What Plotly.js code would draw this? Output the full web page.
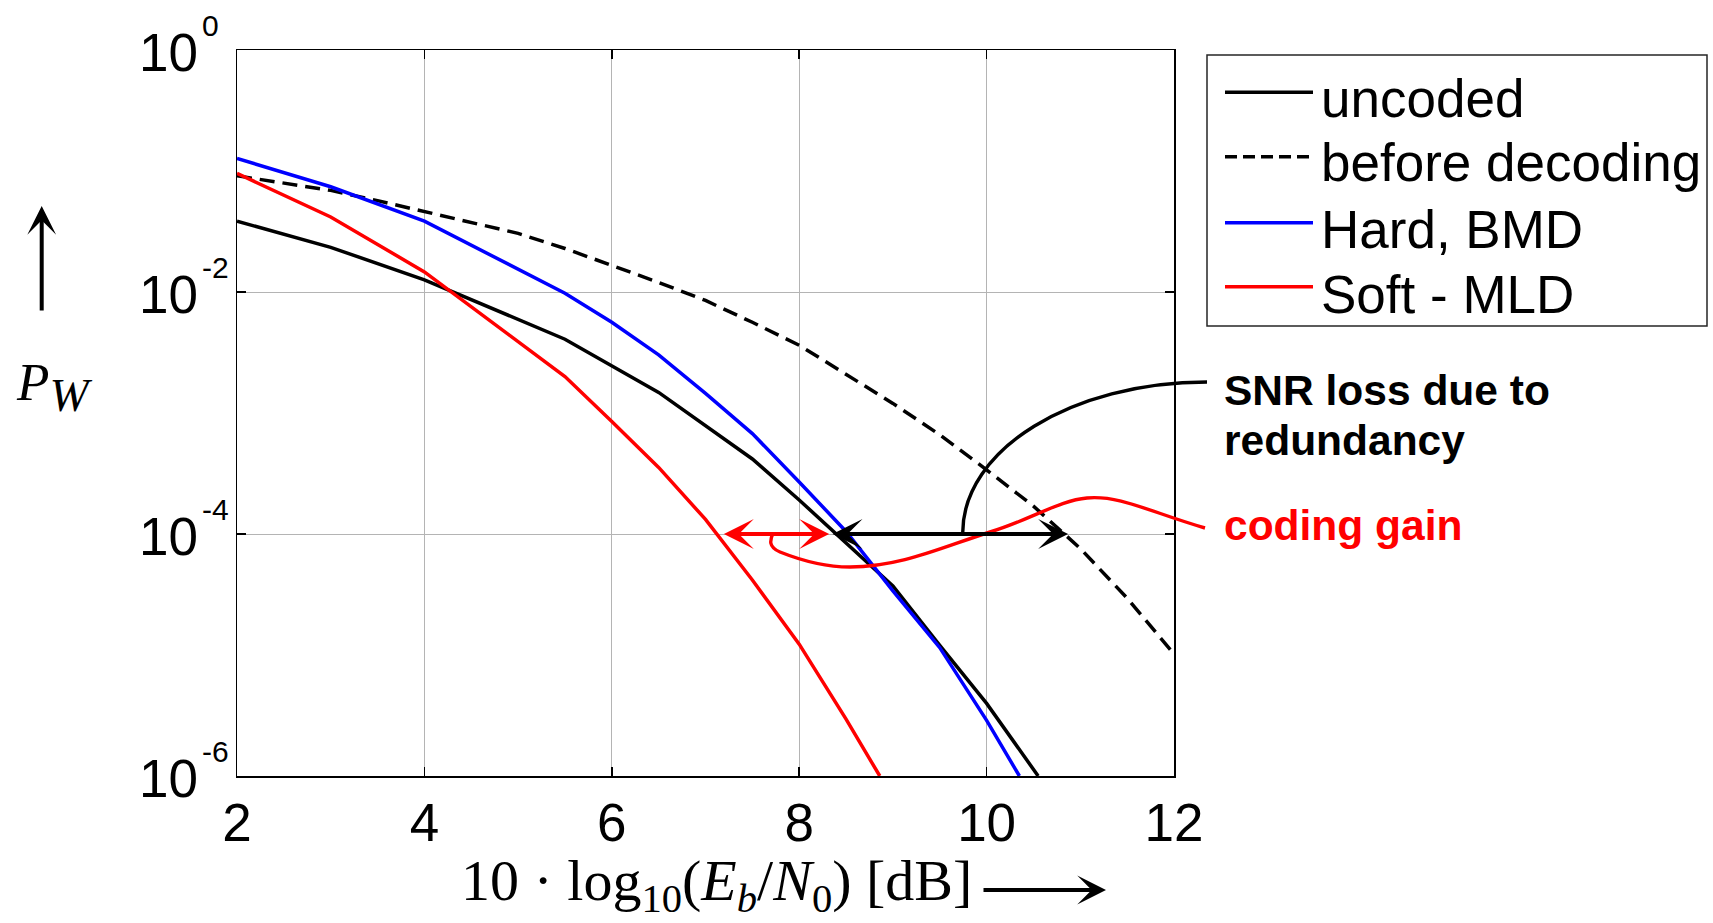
<!DOCTYPE html>
<html><head><meta charset="utf-8">
<script src="https://cdn.plot.ly/plotly-3.0.1.min.js"></script>
<style>html,body{margin:0;padding:0;background:#fff}#chart{width:1713px;height:923px}</style>
</head><body><div id="chart"></div>
<script>
// ---- data ----
const snrUncoded = [2, 3, 4, 5.5, 6.5, 7.5, 8, 8.5, 9, 9.5, 10, 10.55];
const pwUncoded  = [0.0385, 0.0234, 0.0126, 0.00407, 0.00148, 0.000417, 0.000191, 0.0000851, 0.0000372, 0.0000120, 0.00000398, 0.000001];

const snrBefore = [2, 2.5, 3, 3.5, 4, 4.5, 5, 5.5, 6, 6.5, 7, 7.5, 8, 8.5, 9, 9.5, 10, 10.5, 11, 11.5, 12];
const pwBefore  = [0.0912, 0.0794, 0.0692, 0.0569, 0.0460, 0.0376, 0.0305, 0.0229, 0.0167, 0.0120, 0.00851, 0.00562, 0.00363, 0.00209, 0.00120, 0.000661, 0.000339, 0.000170, 0.0000759, 0.0000295, 0.0000102];

const snrHard = [2, 2.5, 3, 4, 5.5, 6, 6.5, 7, 7.5, 8, 8.5, 9, 9.5, 10, 10.35];
const pwHard  = [0.127, 0.0977, 0.0741, 0.0385, 0.00977, 0.00562, 0.00302, 0.00145, 0.000676, 0.000269, 0.000105, 0.0000339, 0.0000115, 0.00000288, 0.000001];

const snrSoft = [2, 3, 4, 5.5, 6, 6.5, 7, 7.5, 8, 8.5, 8.86];
const pwSoft  = [0.0955, 0.0417, 0.01466, 0.00200, 0.000851, 0.000355, 0.000132, 0.0000417, 0.0000123, 0.00000295, 0.000001];

const seriesNames = ['uncoded', 'before decoding', 'Hard, BMD', 'Soft - MLD'];
const xTickVals = [2, 4, 6, 8, 10, 12];
const yTickVals = [1, 1e-2, 1e-4, 1e-6];
const yExponents = ['0', '-2', '-4', '-6'];

// gain markers (dB at Pw = 1e-4)
const markerLevel = 1e-4;
const snrLossFrom = 8.34, snrLossTo = 10.87;
const gainFrom = 7.18, gainTo = 8.32;

// ---- geometry helpers (figure pixels -> paper) ----
const Lp = 237, Rp = 1174, Tp = 50, Bp = 776;
const fx = px => (px - Lp) / (Rp - Lp);
const fy = py => (Bp - py) / (Bp - Tp);
const pt = (px, py) => fx(px).toFixed(5) + ',' + fy(py).toFixed(5);

const lw = 3.5;
const traces = [
  {x: snrUncoded, y: pwUncoded, name: seriesNames[0], mode: 'lines', line: {color: '#000000', width: lw}},
  {x: snrBefore,  y: pwBefore,  name: seriesNames[1], mode: 'lines', line: {color: '#000000', width: lw, dash: '15px,8px'}},
  {x: snrHard,    y: pwHard,    name: seriesNames[2], mode: 'lines', line: {color: '#0000ff', width: lw}},
  {x: snrSoft,    y: pwSoft,    name: seriesNames[3], mode: 'lines', line: {color: '#ff0000', width: lw}}
];

const legendRows = [98, 163, 229.5, 294.5];
const legendLineY = [92.3, 156.7, 222.7, 286.7];
const legendColors = ['#000000', '#000000', '#0000ff', '#ff0000'];
const legendDash = ['solid', '12px,6px', 'solid', 'solid'];

const shapes = [
  {type: 'rect', xref: 'paper', yref: 'paper', x0: fx(1207), x1: fx(1707), y0: fy(326), y1: fy(55),
   line: {color: '#262626', width: 1.5}, fillcolor: 'rgba(255,255,255,0)'},
  {type: 'path', xref: 'paper', yref: 'paper', line: {color: '#000', width: 3.4},
   path: 'M' + pt(962.7, 533) + ' C' + pt(962.7, 449.6) + ' ' + pt(1071.7, 382) + ' ' + pt(1207, 382)},
  {type: 'path', xref: 'paper', yref: 'paper', line: {color: '#ff0000', width: 3.4},
   path: 'M' + pt(1205, 528) + ' C' + pt(1150, 512) + ' ' + pt(1120, 495) + ' ' + pt(1087, 498) +
         ' C' + pt(1060, 500) + ' ' + pt(1030, 520) + ' ' + pt(990, 532) +
         ' C' + pt(940, 548) + ' ' + pt(900, 567) + ' ' + pt(850, 567) +
         ' C' + pt(820, 567) + ' ' + pt(795, 558) + ' ' + pt(780, 552) +
         ' C' + pt(768, 547) + ' ' + pt(770, 540) + ' ' + pt(773, 533)}
];
legendLineY.forEach((y, i) => shapes.push({type: 'line', xref: 'paper', yref: 'paper',
  x0: fx(1225), x1: fx(1313), y0: fy(y), y1: fy(y),
  line: {color: legendColors[i], width: 3.4, dash: legendDash[i]}}));

const sans = '"Liberation Sans", Arial, sans-serif';
const serif = '"Liberation Serif", "Times New Roman", serif';
const annotations = [];
seriesNames.forEach((n, i) => annotations.push({xref: 'paper', yref: 'paper', x: fx(1319), y: fy(legendRows[i]),
  xanchor: 'left', yanchor: 'middle', text: n, showarrow: false, font: {family: sans, size: 53, color: '#000'}}));

// y tick labels: mantissa "10" and a raised exponent
yTickVals.forEach((v, i) => {
  annotations.push({xref: 'paper', yref: 'y', x: fx(200), y: Math.log10(v), yshift: -2, xanchor: 'right', yanchor: 'middle',
    text: '10', showarrow: false, font: {family: sans, size: 53, color: '#000'}});
  annotations.push({xref: 'paper', yref: 'y', x: fx(200), y: Math.log10(v), yshift: 25, xanchor: 'left', yanchor: 'middle',
    text: yExponents[i], showarrow: false, font: {family: sans, size: 30, color: '#000'}});
});

const arrowCommon = {text: '', showarrow: true, arrowhead: 3, standoff: 0, startstandoff: 0, font: {size: 1}};
annotations.push(
  Object.assign({}, arrowCommon, {xref: 'x', yref: 'y', x: snrLossTo, y: Math.log10(markerLevel), axref: 'x', ayref: 'y',
   ax: snrLossFrom, ay: Math.log10(markerLevel), startarrowhead: 3, arrowside: 'end+start', arrowsize: 1.25, startarrowsize: 1.25,
   arrowwidth: 4, arrowcolor: '#000'}),
  Object.assign({}, arrowCommon, {xref: 'x', yref: 'y', x: gainTo, y: Math.log10(markerLevel), axref: 'x', ayref: 'y',
   ax: gainFrom, ay: Math.log10(markerLevel), startarrowhead: 3, arrowside: 'end+start', arrowsize: 1.25, startarrowsize: 1.25,
   arrowwidth: 4, arrowcolor: '#ff0000'}),
  Object.assign({}, arrowCommon, {xref: 'paper', yref: 'paper', x: fx(41.7), y: fy(206), ax: 0, ay: 106,
   arrowsize: 1.2, arrowwidth: 4, arrowcolor: '#000'}),
  Object.assign({}, arrowCommon, {xref: 'paper', yref: 'paper', x: fx(1106), y: fy(890), ax: -124, ay: 0,
   arrowsize: 1.2, arrowwidth: 4, arrowcolor: '#000'}),
  {xref: 'paper', yref: 'paper', x: fx(459), y: fy(885), xanchor: 'left', yanchor: 'middle', showarrow: false,
   text: '10 · log<sub>10</sub>(<i>E</i><sub><i>b</i></sub>/<i>N</i><sub>0</sub>) [dB]', font: {family: serif, size: 58, color: '#000'}},
  {xref: 'paper', yref: 'paper', x: fx(14), y: fy(387), xanchor: 'left', yanchor: 'middle', showarrow: false,
   text: '<i>P</i><sub><i><span style="font-size:47px">W</span></i></sub>', font: {family: serif, size: 53, color: '#000'}},
  {xref: 'paper', yref: 'paper', x: fx(1222), y: fy(390.5), xanchor: 'left', yanchor: 'middle', showarrow: false,
   text: '<b>SNR loss due to</b>', font: {family: sans, size: 42.5, color: '#000'}},
  {xref: 'paper', yref: 'paper', x: fx(1222), y: fy(440.5), xanchor: 'left', yanchor: 'middle', showarrow: false,
   text: '<b>redundancy</b>', font: {family: sans, size: 42.5, color: '#000'}},
  {xref: 'paper', yref: 'paper', x: fx(1222), y: fy(525.5), xanchor: 'left', yanchor: 'middle', showarrow: false,
   text: '<b>coding gain</b>', font: {family: sans, size: 42.5, color: '#ff0000'}}
);

const axisCommon = {ticks: 'inside', ticklen: 9, tickwidth: 1.5, tickcolor: '#000', mirror: 'ticks', showline: true,
  linecolor: '#000', linewidth: 1.5, showgrid: true, gridcolor: '#b4b4b4', gridwidth: 1, zeroline: false,
  tickfont: {family: sans, size: 53, color: '#000'}};

const layout = {
  width: 1713, height: 923,
  margin: {l: Lp, r: 1713 - Rp, t: Tp, b: 923 - Bp, pad: 0},
  paper_bgcolor: '#ffffff', plot_bgcolor: '#ffffff', showlegend: false,
  font: {family: sans, color: '#000'},
  xaxis: Object.assign({}, axisCommon, {range: [2, 12], tickmode: 'array', tickvals: xTickVals, ticktext: xTickVals.map(String)}),
  yaxis: Object.assign({}, axisCommon, {type: 'log', range: [-6, 0], tickmode: 'array', tickvals: yTickVals, showticklabels: false}),
  shapes: shapes, annotations: annotations
};

Plotly.newPlot('chart', traces, layout, {displayModeBar: false, staticPlot: true});
</script></body></html>
